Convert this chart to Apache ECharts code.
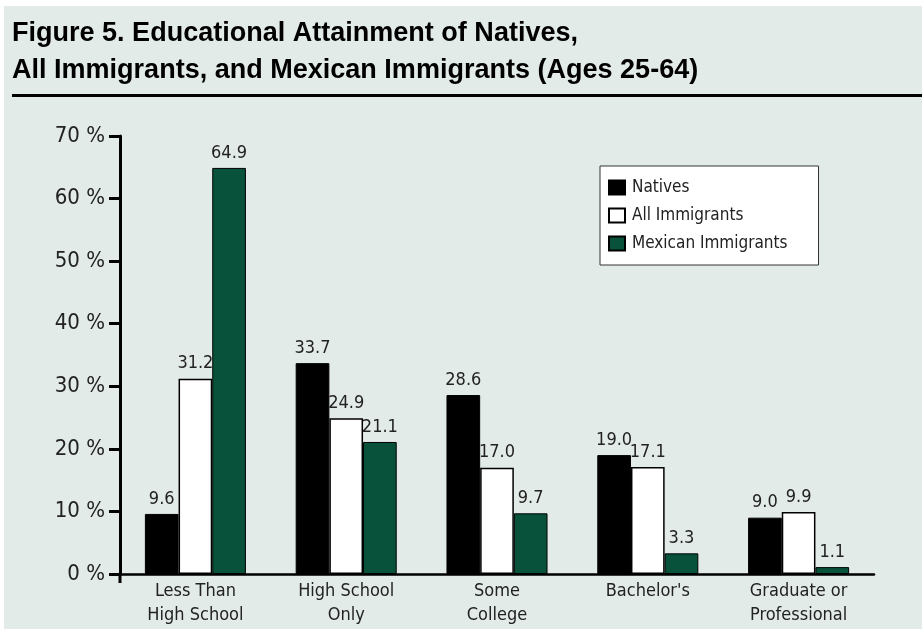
<!DOCTYPE html>
<html><head><meta charset="utf-8">
<script src="https://cdn.jsdelivr.net/npm/echarts@6/dist/echarts.min.js"></script>
<style>html,body{margin:0;padding:0;background:#fff}#c{width:922px;height:629px}</style>
</head><body><div id="c"></div>
<script>
const categories = ["Less Than\nHigh School", "High School\nOnly", "Some\nCollege", "Bachelor's", "Graduate or\nProfessional"];
const natives = [9.6, 33.7, 28.6, 19.0, 9.0];
const allImmigrants = [31.2, 24.9, 17.0, 17.1, 9.9];
const mexicanImmigrants = [64.9, 21.1, 9.7, 3.3, 1.1];
const seriesNames = ["Natives", "All Immigrants", "Mexican Immigrants"];
const titleLines = ["Figure 5. Educational Attainment of Natives,", "All Immigrants, and Mexican Immigrants (Ages 25-64)"];

const FONT = '"DejaVu Sans Condensed", "Liberation Sans Narrow", sans-serif';
const TFONT = 'bold 27px "Liberation Sans", Arial, sans-serif';
const mctx = document.createElement('canvas').getContext('2d');
mctx.font = TFONT;
const titleScale = 566 / mctx.measureText(titleLines[0]).width;

const chart = echarts.init(document.getElementById('c'), null, {renderer: 'canvas'});
const lbl = {show: true, position: 'top', distance: 6, color: '#222', fontFamily: FONT, fontSize: 18, formatter: p => p.value.toFixed(1)};
chart.setOption({
  backgroundColor: '#e3ebe8',
  animation: false,
  graphic: [
    {type: 'rect', shape: {x: 0, y: 0, width: 922, height: 6}, style: {fill: '#fff'}},
    {type: 'rect', shape: {x: 0, y: 0, width: 4, height: 629}, style: {fill: '#fff'}},
    {type: 'text', x: 12, y: 34, scaleX: titleScale, style: {text: titleLines[0], font: TFONT, fill: '#000', verticalAlign: 'middle'}},
    {type: 'text', x: 12, y: 71, scaleX: titleScale, style: {text: titleLines[1], font: TFONT, fill: '#000', verticalAlign: 'middle'}},
    {type: 'rect', shape: {x: 12, y: 94, width: 910, height: 3}, style: {fill: '#000'}}
  ],
  legend: {
    data: seriesNames,
    orient: 'vertical',
    left: 600, top: 166,
    backgroundColor: '#fff',
    borderColor: '#333', borderWidth: 1,
    padding: [13, 31, 13, 8],
    itemGap: 11,
    itemWidth: 16, itemHeight: 14,
    icon: 'rect',
    textStyle: {fontFamily: FONT, fontSize: 17, color: '#222', padding: [0, 0, 0, 2]}
  },
  grid: {left: 120, right: 48, top: 136, bottom: 55},
  xAxis: {
    type: 'category', data: categories,
    axisLine: {lineStyle: {color: '#000', width: 2.5}},
    axisTick: {show: false},
    axisLabel: {fontFamily: FONT, fontSize: 18, color: '#222', lineHeight: 24, margin: 5}
  },
  yAxis: {
    type: 'value', min: 0, max: 70, interval: 10,
    splitLine: {show: false},
    axisLine: {show: true, lineStyle: {color: '#000', width: 3}},
    axisTick: {show: true, length: 11, lineStyle: {color: '#000', width: 3}},
    axisLabel: {formatter: '{value} %', fontFamily: FONT, fontSize: 22, color: '#222', margin: 15}
  },
  series: [
    {name: seriesNames[0], type: 'bar', data: natives, barGap: '0%', barCategoryGap: '33%',
     itemStyle: {color: '#000', borderColor: '#000', borderWidth: 1}, label: lbl},
    {name: seriesNames[1], type: 'bar', data: allImmigrants, barGap: '0%', barCategoryGap: '33%',
     itemStyle: {color: '#fff', borderColor: '#000', borderWidth: 1.5}, label: lbl},
    {name: seriesNames[2], type: 'bar', data: mexicanImmigrants, barGap: '0%', barCategoryGap: '33%',
     itemStyle: {color: '#08513a', borderColor: '#000', borderWidth: 1}, label: lbl}
  ]
});
// y-axis line extends a little below the baseline, as in the original
const rect = chart.getModel().getComponent('grid').coordinateSystem.getRect();
chart.setOption({graphic: [
  {type: 'rect', shape: {x: 0, y: 0, width: 922, height: 6}, style: {fill: '#fff'}},
  {type: 'rect', shape: {x: 0, y: 0, width: 4, height: 629}, style: {fill: '#fff'}},
  {type: 'text', x: 12, y: 34, scaleX: titleScale, style: {text: titleLines[0], font: TFONT, fill: '#000', verticalAlign: 'middle'}},
  {type: 'text', x: 12, y: 71, scaleX: titleScale, style: {text: titleLines[1], font: TFONT, fill: '#000', verticalAlign: 'middle'}},
  {type: 'rect', shape: {x: 12, y: 94, width: 910, height: 3}, style: {fill: '#000'}},
  {type: 'line', shape: {x1: rect.x, y1: rect.y + rect.height, x2: rect.x, y2: rect.y + rect.height + 9}, style: {stroke: '#000', lineWidth: 3}}
]});
</script></body></html>
